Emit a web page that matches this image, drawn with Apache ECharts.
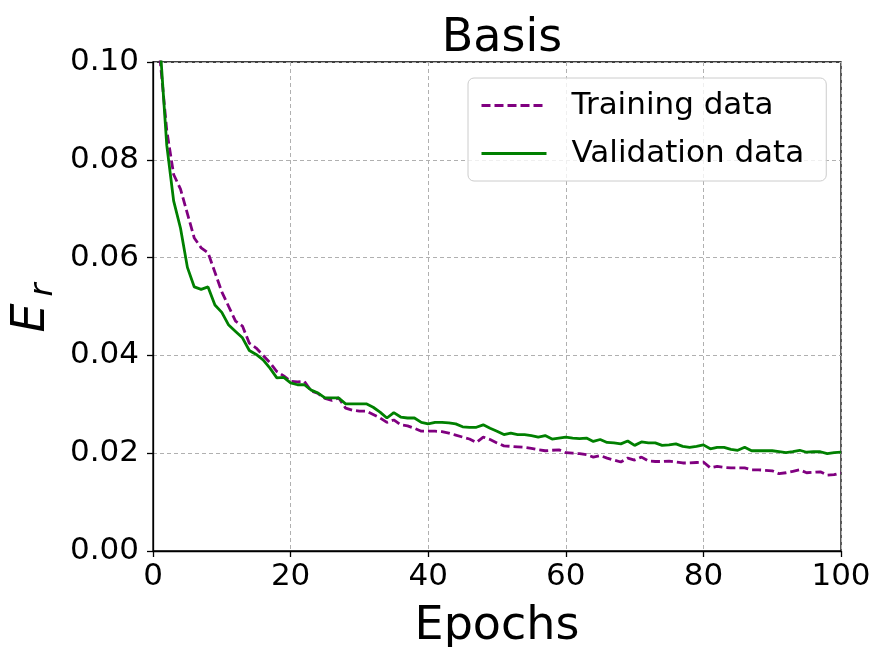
<!DOCTYPE html>
<html>
<head>
<meta charset="utf-8">
<script src="https://cdn.jsdelivr.net/npm/echarts@6/dist/echarts.min.js"></script>
<style>html,body{margin:0;padding:0;background:#fff;}#c{width:873px;height:647px;}</style>
</head>
<body>
<div id="c"></div>
<script>
const epochs = [1,2,3,4,5,6,7,8,9,10,11,12,13,14,15,16,17,18,19,20,21,22,23,24,25,26,27,28,29,30,31,32,33,34,35,36,37,38,39,40,41,42,43,44,45,46,47,48,49,50,51,52,53,54,55,56,57,58,59,60,61,62,63,64,65,66,67,68,69,70,71,72,73,74,75,76,77,78,79,80,81,82,83,84,85,86,87,88,89,90,91,92,93,94,95,96,97,98,99,100];
const training = [0.101,0.086,0.077,0.074,0.069,0.064,0.062,0.061,0.057,0.053,0.050,0.047,0.046,0.0425,0.0415,0.040,0.0385,0.0367,0.0358,0.0347,0.0346,0.0347,0.0327,0.0322,0.0312,0.0308,0.0313,0.0292,0.0288,0.0286,0.0286,0.0279,0.0272,0.0263,0.0268,0.0258,0.0256,0.0251,0.0245,0.0245,0.0245,0.0244,0.0241,0.0237,0.0233,0.0229,0.0222,0.0233,0.0228,0.0221,0.0215,0.0214,0.0213,0.0212,0.0210,0.0207,0.0205,0.0206,0.0207,0.0201,0.0200,0.0199,0.0197,0.0192,0.0195,0.0190,0.0186,0.0182,0.0190,0.0186,0.0192,0.0184,0.0183,0.0183,0.0184,0.0182,0.0180,0.0180,0.0181,0.0182,0.0170,0.0173,0.0171,0.0170,0.0170,0.0170,0.0166,0.0166,0.0165,0.0164,0.0158,0.0160,0.0163,0.0166,0.0160,0.0161,0.0162,0.0155,0.0156,0.0160];
const validation = [0.104,0.083,0.0716,0.066,0.058,0.054,0.0535,0.054,0.0503,0.0488,0.0462,0.0449,0.0436,0.041,0.0402,0.0391,0.0374,0.0354,0.0355,0.0344,0.0340,0.0340,0.0329,0.0323,0.0313,0.0313,0.0313,0.0301,0.0301,0.0301,0.0301,0.0294,0.0284,0.0272,0.0283,0.0274,0.0272,0.0272,0.0263,0.0260,0.0263,0.0263,0.0262,0.0260,0.0254,0.0253,0.0253,0.0258,0.0251,0.0245,0.0238,0.0241,0.0238,0.0238,0.0236,0.0233,0.0236,0.0229,0.0231,0.0233,0.0231,0.0230,0.0231,0.0224,0.0228,0.0222,0.0221,0.0219,0.0225,0.0216,0.0223,0.0221,0.0221,0.0216,0.0217,0.0219,0.0214,0.0212,0.0214,0.0217,0.0209,0.0212,0.0212,0.0208,0.0206,0.0212,0.0205,0.0205,0.0205,0.0205,0.0203,0.0201,0.0203,0.0206,0.0202,0.0203,0.0203,0.0199,0.0201,0.0202];
const seriesNames = ['Training data', 'Validation data'];
const titleText = 'Basis';
const xName = 'Epochs';

const FONT = 'DejaVu Sans';
const chart = echarts.init(document.getElementById('c'), null, {renderer: 'canvas'});
const pair = (xs, ys) => xs.map((x, i) => [x, ys[i]]);
const gridLine = {show: true, lineStyle: {color: '#b0b0b0', type: [4, 3], width: 1}};
chart.setOption({
  animation: false,
  backgroundColor: '#fff',
  title: {
    text: titleText, left: 497, top: 11, textAlign: 'center',
    textStyle: {fontFamily: FONT, fontSize: 46, fontWeight: 'normal', color: '#000'}
  },
  grid: {show: true, left: 153, right: 32, top: 62, bottom: 96, outerBoundsMode: 'none', containLabel: false,
         borderColor: '#000', borderWidth: 1.3, backgroundColor: 'transparent'},
  legend: {
    left: 468, top: 78, orient: 'vertical',
    padding: [12, 22, 12, 12], itemGap: 17, itemWidth: 65, itemHeight: 14,
    borderColor: '#cccccc', borderWidth: 1, borderRadius: 6, backgroundColor: 'rgba(255,255,255,0.8)',
    itemStyle: {opacity: 0, borderWidth: 0},
    lineStyle: {width: 3},
    textStyle: {fontFamily: FONT, fontSize: 31, color: '#000', padding: [0, 0, 0, 20]},
    data: seriesNames
  },
  xAxis: {
    type: 'value', min: 0, max: 100, interval: 20,
    name: xName, nameLocation: 'middle', nameGap: 53,
    nameTextStyle: {fontFamily: FONT, fontSize: 46, color: '#000'},
    axisLine: {show: true, onZero: false, lineStyle: {color: '#000', width: 1.3}},
    axisTick: {show: true, length: 6, lineStyle: {color: '#000', width: 1.3}},
    axisLabel: {fontFamily: FONT, fontSize: 31, color: '#000', margin: 10},
    splitLine: gridLine
  },
  yAxis: {
    type: 'value', min: 0, max: 0.1, interval: 0.02,
    axisLine: {show: true, lineStyle: {color: '#000', width: 1.3}},
    axisTick: {show: true, length: 6, lineStyle: {color: '#000', width: 1.3}},
    axisLabel: {fontFamily: FONT, fontSize: 31, color: '#000', margin: 14, formatter: v => v.toFixed(2)},
    splitLine: gridLine
  },
  graphic: [
    {type: 'text', x: 32, y: 318, rotation: Math.PI / 2,
     style: {text: 'E', font: 'italic 46px "DejaVu Sans"', fill: '#000', align: 'center', verticalAlign: 'middle'}},
    {type: 'text', x: 44, y: 290, rotation: Math.PI / 2,
     style: {text: 'r', font: 'italic 32px "DejaVu Sans"', fill: '#000', align: 'center', verticalAlign: 'middle'}}
  ],
  series: [
    {name: seriesNames[0], type: 'line', data: pair(epochs, training), symbol: 'none', clip: true,
     lineStyle: {color: '#800080', width: 2.8, type: [9, 4]}, itemStyle: {color: '#800080'}, z: 3},
    {name: seriesNames[1], type: 'line', data: pair(epochs, validation), symbol: 'none', clip: true,
     lineStyle: {color: '#008000', width: 2.8, type: 'solid'}, itemStyle: {color: '#008000'}, z: 4}
  ]
});
</script>
</body>
</html>
